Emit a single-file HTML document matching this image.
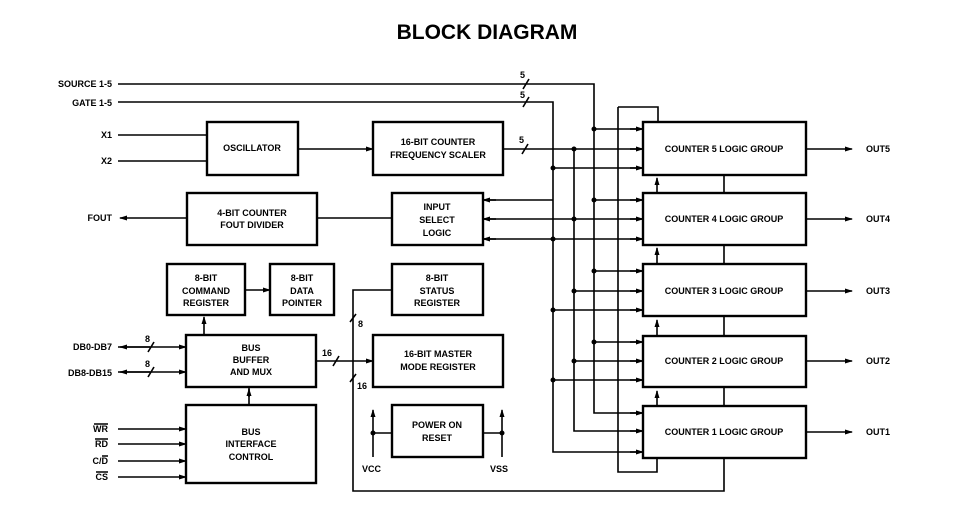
<!DOCTYPE html>
<html><head><meta charset="utf-8"><style>
html,body{margin:0;padding:0;background:#fff;}
svg{display:block;}
text{font-family:"Liberation Sans",sans-serif;font-weight:bold;font-size:9px;fill:#000;}
.b{fill:#fff;stroke:#000;stroke-width:2.4;}
.l{stroke:#000;stroke-width:1.6;fill:none;}
</style></head><body>
<svg width="956" height="509" viewBox="0 0 956 509" xmlns="http://www.w3.org/2000/svg">
<defs>
<marker id="a" markerWidth="8" markerHeight="6" refX="7" refY="3" orient="auto" markerUnits="userSpaceOnUse"><path d="M0,0.5 L8,3 L0,5.5z" fill="#000"/></marker>
</defs>
<text x="487" y="39" text-anchor="middle" style="font-size:21px">BLOCK DIAGRAM</text>

<!-- left labels -->
<text x="112" y="87" text-anchor="end">SOURCE 1-5</text>
<text x="112" y="106" text-anchor="end">GATE 1-5</text>
<text x="112" y="138" text-anchor="end">X1</text>
<text x="112" y="164" text-anchor="end">X2</text>
<text x="112" y="221" text-anchor="end">FOUT</text>
<text x="112" y="350" text-anchor="end">DB0-DB7</text>
<text x="112" y="376" text-anchor="end">DB8-DB15</text>
<text x="108" y="432" text-anchor="end">WR</text>
<text x="108" y="447" text-anchor="end">RD</text>
<text x="108" y="464" text-anchor="end">C/D</text>
<text x="108" y="480" text-anchor="end">CS</text>
<path class="l" d="M94,424h14M95,439h13M102,456h6M96,472h12" stroke-width="1"/>

<!-- buses -->
<path class="l" d="M118,84H594V413H643"/>
<path class="l" d="M118,102H553V452H643"/>
<path class="l" d="M503,149H643"/>
<path class="l" d="M574,149V431H643"/>
<path class="l" d="M594,129H643M553,168H643M594,200H643M574,219H643M553,239H643M594,271H643M574,291H643M553,310H643M594,342H643M574,361H643M553,380H643"/>
<g class="l" marker-end="url(#a)">
<path class="l" marker-end="url(#a)" d="M630,129h13"/><path class="l" marker-end="url(#a)" d="M630,149h13"/><path class="l" marker-end="url(#a)" d="M630,168h13"/>
<path class="l" marker-end="url(#a)" d="M630,200h13"/><path class="l" marker-end="url(#a)" d="M630,219h13"/><path class="l" marker-end="url(#a)" d="M630,239h13"/>
<path class="l" marker-end="url(#a)" d="M630,271h13"/><path class="l" marker-end="url(#a)" d="M630,291h13"/><path class="l" marker-end="url(#a)" d="M630,310h13"/>
<path class="l" marker-end="url(#a)" d="M630,342h13"/><path class="l" marker-end="url(#a)" d="M630,361h13"/><path class="l" marker-end="url(#a)" d="M630,380h13"/>
<path class="l" marker-end="url(#a)" d="M630,413h13"/><path class="l" marker-end="url(#a)" d="M630,431h13"/><path class="l" marker-end="url(#a)" d="M630,452h13"/>
</g>
<path class="l" d="M618,107H658V122M618,107V472H657V458"/>
<path class="l" d="M724,175V193M724,245V264M724,316V336M724,387V406"/>
<path class="l" marker-end="url(#a)" d="M657,193V178"/><path class="l" marker-end="url(#a)" d="M657,264V248"/>
<path class="l" marker-end="url(#a)" d="M657,336V320"/><path class="l" marker-end="url(#a)" d="M657,406V391"/>
<path class="l" d="M724,458V491H353V290H392"/>
<!-- dots -->
<g fill="#000">
<circle cx="594" cy="129" r="2.5"/><circle cx="594" cy="200" r="2.5"/><circle cx="594" cy="271" r="2.5"/><circle cx="594" cy="342" r="2.5"/>
<circle cx="553" cy="168" r="2.5"/><circle cx="553" cy="239" r="2.5"/><circle cx="553" cy="310" r="2.5"/><circle cx="553" cy="380" r="2.5"/>
<circle cx="574" cy="149" r="2.5"/><circle cx="574" cy="219" r="2.5"/><circle cx="574" cy="291" r="2.5"/><circle cx="574" cy="361" r="2.5"/>
<circle cx="373" cy="433" r="2.5"/><circle cx="502" cy="433" r="2.5"/>
</g>
<!-- input select lines -->
<path class="l" d="M483,200H553M483,219H574M483,239H553"/>
<path class="l" marker-end="url(#a)" d="M496,200h-13"/><path class="l" marker-end="url(#a)" d="M496,219h-13"/><path class="l" marker-end="url(#a)" d="M496,239h-13"/>
<!-- slashes -->
<path class="l" d="M523,89l6,-10M523,107l6,-10M522,154l6,-10M148,352l6,-10M148,377l6,-10M333,366l6,-10M350,322l6,-8M350,382l6,-8"/>
<text x="520" y="78">5</text><text x="520" y="98">5</text><text x="519" y="143">5</text>
<text x="145" y="342">8</text><text x="145" y="367">8</text>
<text x="322" y="356">16</text><text x="358" y="327">8</text><text x="357" y="389">16</text>

<!-- inputs -->
<path class="l" d="M118,135H207M118,161H207"/>
<path class="l" marker-end="url(#a)" d="M298,149H373"/>
<path class="l" d="M392,218H317"/>
<path class="l" marker-end="url(#a)" d="M187,218H120"/>
<path class="l" marker-end="url(#a)" d="M245,290H270"/>
<path class="l" marker-end="url(#a)" d="M204,335V317"/>
<path class="l" d="M249,387V405"/>
<path class="l" marker-end="url(#a)" d="M249,397V389"/>
<path class="l" marker-end="url(#a)" d="M118,347H186"/><path class="l" marker-end="url(#a)" d="M118,372H186"/>
<path class="l" marker-end="url(#a)" d="M150,347H120"/><path class="l" marker-end="url(#a)" d="M150,372H120"/>
<path class="l" marker-end="url(#a)" d="M118,429H186"/><path class="l" marker-end="url(#a)" d="M118,444H186"/>
<path class="l" marker-end="url(#a)" d="M118,461H186"/><path class="l" marker-end="url(#a)" d="M118,477H186"/>
<path class="l" marker-end="url(#a)" d="M316,361H373"/>
<path class="l" marker-end="url(#a)" d="M373,457V410"/><path class="l" marker-end="url(#a)" d="M502,457V410"/>
<path class="l" d="M373,433H392M502,433H483"/>
<text x="362" y="472">VCC</text><text x="490" y="472">VSS</text>

<!-- outputs -->
<path class="l" marker-end="url(#a)" d="M806,149H852"/><path class="l" marker-end="url(#a)" d="M806,219H852"/>
<path class="l" marker-end="url(#a)" d="M806,291H852"/><path class="l" marker-end="url(#a)" d="M806,361H852"/>
<path class="l" marker-end="url(#a)" d="M806,432H852"/>
<text x="866" y="152">OUT5</text><text x="866" y="222">OUT4</text><text x="866" y="294">OUT3</text><text x="866" y="364">OUT2</text><text x="866" y="435">OUT1</text>

<!-- boxes -->
<rect class="b" x="207" y="122" width="91" height="53"/>
<text x="252" y="151" text-anchor="middle">OSCILLATOR</text>
<rect class="b" x="373" y="122" width="130" height="53"/>
<text x="438" y="145" text-anchor="middle">16-BIT COUNTER</text><text x="438" y="158" text-anchor="middle">FREQUENCY SCALER</text>
<rect class="b" x="187" y="193" width="130" height="52"/>
<text x="252" y="216" text-anchor="middle">4-BIT COUNTER</text><text x="252" y="228" text-anchor="middle">FOUT DIVIDER</text>
<rect class="b" x="392" y="193" width="91" height="52"/>
<text x="437" y="210" text-anchor="middle">INPUT</text><text x="437" y="223" text-anchor="middle">SELECT</text><text x="437" y="236" text-anchor="middle">LOGIC</text>
<rect class="b" x="167" y="264" width="78" height="51"/>
<text x="206" y="281" text-anchor="middle">8-BIT</text><text x="206" y="294" text-anchor="middle">COMMAND</text><text x="206" y="306" text-anchor="middle">REGISTER</text>
<rect class="b" x="270" y="264" width="64" height="51"/>
<text x="302" y="281" text-anchor="middle">8-BIT</text><text x="302" y="294" text-anchor="middle">DATA</text><text x="302" y="306" text-anchor="middle">POINTER</text>
<rect class="b" x="392" y="264" width="91" height="51"/>
<text x="437" y="281" text-anchor="middle">8-BIT</text><text x="437" y="294" text-anchor="middle">STATUS</text><text x="437" y="306" text-anchor="middle">REGISTER</text>
<rect class="b" x="186" y="335" width="130" height="52"/>
<text x="251" y="351" text-anchor="middle">BUS</text><text x="251" y="363" text-anchor="middle">BUFFER</text><text x="251" y="375" text-anchor="middle">AND MUX</text>
<rect class="b" x="373" y="335" width="130" height="52"/>
<text x="438" y="357" text-anchor="middle">16-BIT MASTER</text><text x="438" y="370" text-anchor="middle">MODE REGISTER</text>
<rect class="b" x="186" y="405" width="130" height="78"/>
<text x="251" y="435" text-anchor="middle">BUS</text><text x="251" y="447" text-anchor="middle">INTERFACE</text><text x="251" y="460" text-anchor="middle">CONTROL</text>
<rect class="b" x="392" y="405" width="91" height="52"/>
<text x="437" y="428" text-anchor="middle">POWER ON</text><text x="437" y="441" text-anchor="middle">RESET</text>

<rect class="b" x="643" y="122" width="163" height="53"/>
<text x="724" y="152" text-anchor="middle">COUNTER 5 LOGIC GROUP</text>
<rect class="b" x="643" y="193" width="163" height="52"/>
<text x="724" y="222" text-anchor="middle">COUNTER 4 LOGIC GROUP</text>
<rect class="b" x="643" y="264" width="163" height="52"/>
<text x="724" y="294" text-anchor="middle">COUNTER 3 LOGIC GROUP</text>
<rect class="b" x="643" y="336" width="163" height="51"/>
<text x="724" y="364" text-anchor="middle">COUNTER 2 LOGIC GROUP</text>
<rect class="b" x="643" y="406" width="163" height="52"/>
<text x="724" y="435" text-anchor="middle">COUNTER 1 LOGIC GROUP</text>
</svg>
</body></html>
